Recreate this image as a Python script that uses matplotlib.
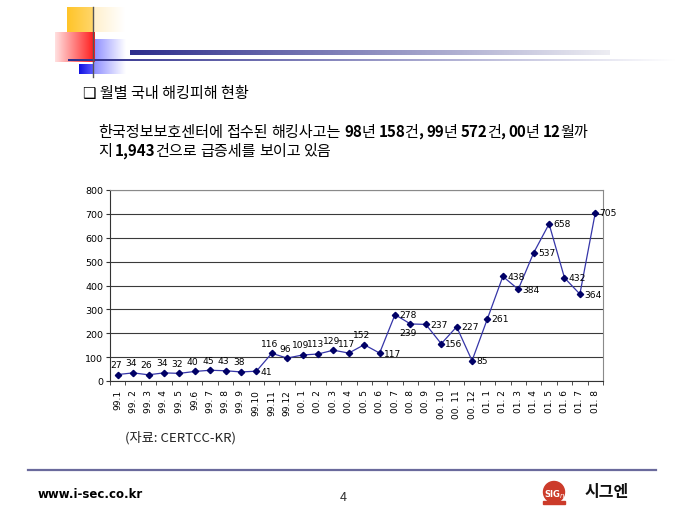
import numpy as np
import matplotlib
matplotlib.use("Agg")
import matplotlib.pyplot as plt
from matplotlib.colors import to_rgb
from matplotlib.patches import Circle, Rectangle

KR = ['Noto Sans CJK KR', 'DejaVu Sans']
NARROW = ['Liberation Sans Narrow', 'DejaVu Sans']
plt.rcParams['font.family'] = KR

# monthly hacking incidents reported to CERTCC-KR
months = ["99.1", "99. 2", "99. 3", "99. 4", "99. 5", "99.6", "99. 7", "99. 8",
          "99. 9", "99.10", "99.11", "99.12",
          "00. 1", "00. 2", "00. 3", "00. 4", "00. 5", "00. 6", "00. 7", "00. 8",
          "00. 9", "00. 10", "00. 11", "00. 12",
          "01. 1", "01. 2", "01. 3", "01. 4", "01. 5", "01. 6", "01. 7", "01. 8"]
counts = [27, 34, 26, 34, 32, 40, 45, 43, 38, 41, 116, 96,
          109, 113, 129, 117, 152, 117, 278, 239, 237, 156, 227, 85,
          261, 438, 384, 537, 658, 432, 364, 705]
# where each value label sits: a = above, r = right, b = below
label_side = list("aaaaaaaaar" "aaaaaaa" "rrb" "rrrrrrrrrrrr")
yticks = list(range(0, 801, 100))

title = "❑ 월별 국내 해킹피해 현황"
body1 = [("한국정보보호센터에", 0), (" ", 0), ("접수된", 0), (" ", 0), ("해킹사고는", 0), (" ", 0),
         ("98", 1), ("년", 0), (" ", 0), ("158", 1), ("건", 0), (",", 1), (" ", 0),
         ("99", 1), ("년", 0), (" ", 0), ("572", 1), ("건", 0), (",", 1), (" ", 0),
         ("00", 1), ("년", 0), (" ", 0), ("12", 1), ("월까", 0)]
body2 = [("지", 0), (" ", 0), ("1,943", 1), ("건으로", 0), (" ", 0), ("급증세를", 0), (" ", 0),
         ("보이고", 0), (" ", 0), ("있음", 0)]
source = "(자료: CERTCC-KR)"

fig = plt.figure(figsize=(6.8, 5.1), dpi=100)
bg = fig.add_axes([0, 0, 1, 1])
bg.set_xlim(0, 680)
bg.set_ylim(510, 0)
bg.axis('off')


def grad(x0, x1, y0, y1, c0, c1, z=1):
    t = np.linspace(0, 1, 64)[None, :, None]
    img = (1 - t) * np.array(to_rgb(c0)) + t * np.array(to_rgb(c1))
    bg.imshow(img, extent=(x0, x1, y1, y0), aspect='auto',
              interpolation='bilinear', zorder=z)


# slide header decoration
grad(67, 93, 8, 33, '#ffc428', '#ffd66a', 1)
grad(93, 125, 8, 33, '#fff0cc', '#ffffff', 1)
grad(93, 126, 40, 75, '#8c8cff', '#ffffff', 1)
grad(55, 95, 33, 63, '#ffe0e0', '#ff1a1a', 2)
grad(79, 93, 65, 75, '#1010e0', '#5a5aff', 2)
grad(130, 610, 51, 56, '#2e2e8c', '#ececf2', 2)
grad(68, 680, 59.5, 61.5, '#2e2e8c', '#ffffff', 3)
bg.plot([93, 93], [8, 78], color='#555555', lw=1, zorder=4)
bg.set_xlim(0, 680)
bg.set_ylim(510, 0)

renderer = fig.canvas.get_renderer()


def text_width(s, size, bold):
    t = bg.text(0, 0, s, fontsize=size, fontweight='bold' if bold else 'normal')
    w = t.get_window_extent(renderer=renderer).width
    t.remove()
    return w


def advance(s, size, bold):
    # width between two reference glyphs, so side bearings do not count
    w = text_width("가" + s + "가", size, bold) - text_width("가가", size, bold)
    if s[-1].isdigit():
        w -= 0.8  # digits sit a little tighter to the hangul in the original
    return w


def draw_runs(x, y, runs, size):
    for s, bold in runs:
        if s != " ":
            bg.text(x, y, s, fontsize=size, fontweight='bold' if bold else 'normal',
                    ha='left', va='baseline', color='black')
        x += advance(s, size, bold)


bg.text(83, 98, title, fontsize=10.9, ha='left', va='baseline', color='black')
draw_runs(98, 137, body1, 10.9)
draw_runs(98, 156, body2, 10.9)
bg.text(125, 442, source, fontsize=9.5, ha='left', va='baseline', color='#222222')

# footer
bg.plot([28, 656], [471, 471], color='#6a6a9c', lw=1.6)
bg.text(38, 498, "www.i-sec.co.kr", fontsize=8.5, fontweight='bold',
        family=['DejaVu Sans'], ha='left', va='baseline')
bg.text(343, 501, "4", fontsize=9, ha='center', va='baseline', color='#333333')
bg.add_patch(Circle((554, 493), 10.5, color='#cc3b2a', zorder=5))
bg.add_patch(Rectangle((543, 502), 22, 3, color='#cc3b2a', zorder=5))
bg.text(552, 495, "SIG", fontsize=6, fontweight='bold', color='white',
        family=['DejaVu Sans'], ha='center', va='center', zorder=6)
bg.text(562, 496, "n", fontsize=5, style='italic', color='white',
        family=['DejaVu Sans'], ha='center', va='center', zorder=6)
bg.text(607, 492, "시그엔", fontsize=11.5, fontweight='bold', ha='center',
        va='center', color='#111111')

# chart
ax = fig.add_axes([110 / 680, 1 - 382 / 510, (603 - 110) / 680, (382 - 191) / 510])
x = np.arange(len(counts))
ax.plot(x, counts, color='#3535a8', lw=0.9, marker='D', ms=3.2,
        mfc='#000066', mec='#000066', zorder=3)
for i, (v, side) in enumerate(zip(counts, label_side)):
    if side == 'a':
        off, ha, va = (-1.5, 4), 'center', 'bottom'
    elif side == 'r':
        off, ha, va = (3, 0), 'left', 'center'
    else:
        off, ha, va = (-2, -3), 'center', 'top'
    ax.annotate(str(v), (i, v), xytext=off, textcoords='offset points',
                ha=ha, va=va, fontsize=6.6, family=NARROW, zorder=4)

ax.set_xlim(-0.5, len(counts) - 0.5)
ax.set_ylim(0, 800)
ax.set_yticks(yticks)
ax.set_yticklabels([str(v) for v in yticks], fontsize=6.8, family=NARROW)
ax.yaxis.grid(True, color='#3a3a3a', lw=0.8)
ax.set_axisbelow(True)
ax.set_xticks(x)
ax.set_xticklabels(months, rotation=90, fontsize=6.5, family=NARROW, va='top')
ax.set_xticks(np.arange(-0.5, len(counts)), minor=True)
ax.tick_params(axis='x', which='major', length=0, pad=6)
ax.tick_params(axis='x', which='minor', length=3, color='#333333')
ax.tick_params(axis='y', length=3, pad=2, color='#333333')
for side in ('top', 'right'):
    ax.spines[side].set_color('#8a8a8a')
for side in ('left', 'bottom'):
    ax.spines[side].set_color('#333333')

fig.savefig('out.png', dpi=100)
